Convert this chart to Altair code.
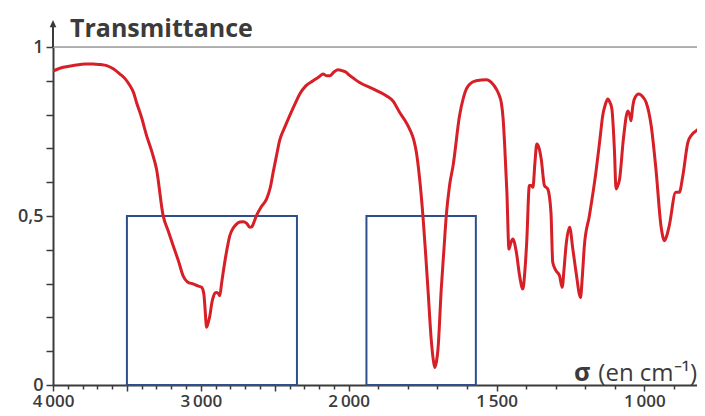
import altair as alt
import pandas as pd

# ---------------- data ----------------
sigma = [4000, 3930, 3863, 3780, 3728, 3680, 3637, 3590, 3547, 3510, 3480, 3455, 3435, 3400,
         3367, 3330, 3300, 3255, 3220, 3187, 3150, 3120, 3090, 3052, 3020, 2995, 2980, 2973,
         2961, 2950, 2939, 2925, 2917, 2905, 2894, 2880, 2872, 2860, 2849, 2830, 2804, 2780,
         2759, 2735, 2714, 2690, 2669, 2655, 2646, 2624, 2590, 2556, 2530, 2511, 2490, 2466,
         2430, 2399, 2360, 2331, 2290, 2241, 2200, 2173, 2150, 2128, 2100, 2072, 2045, 2016,
         2000, 1980, 1963, 1918, 1873, 1850, 1828, 1810, 1794, 1780, 1771, 1760, 1749, 1740,
         1732, 1721, 1714, 1709, 1703, 1698, 1687, 1678, 1670, 1659, 1647, 1625, 1612, 1602,
         1591, 1569, 1535, 1512, 1501, 1490, 1484, 1478, 1473, 1465, 1458, 1452, 1445, 1433,
         1422, 1411, 1404, 1398, 1389, 1382, 1377, 1370, 1364, 1356, 1349, 1338, 1327, 1316,
         1310, 1300, 1287, 1278, 1272, 1265, 1253, 1242, 1231, 1216, 1210, 1203, 1186, 1164,
         1150, 1141, 1132, 1124, 1116, 1110, 1101, 1096, 1090, 1084, 1071, 1056, 1050, 1045,
         1040, 1034, 1019, 1005, 994, 977, 961, 944, 938, 932, 925, 916, 894, 882, 870, 853,
         840, 825, 803, 795]
transmittance = [0.929, 0.940, 0.945, 0.950, 0.950, 0.948, 0.945, 0.935, 0.920, 0.905, 0.886,
                 0.865, 0.836, 0.790, 0.738, 0.688, 0.639, 0.501, 0.455, 0.412, 0.365, 0.323,
                 0.305, 0.299, 0.293, 0.289, 0.270, 0.235, 0.171, 0.185, 0.205, 0.245, 0.259,
                 0.272, 0.274, 0.270, 0.264, 0.300, 0.333, 0.385, 0.442, 0.465, 0.476, 0.482,
                 0.483, 0.478, 0.467, 0.468, 0.476, 0.501, 0.528, 0.550, 0.585, 0.629, 0.675,
                 0.725, 0.765, 0.797, 0.835, 0.861, 0.885, 0.900, 0.912, 0.920, 0.915, 0.915,
                 0.926, 0.933, 0.930, 0.925, 0.918, 0.905, 0.895, 0.876, 0.856, 0.840, 0.807,
                 0.783, 0.757, 0.725, 0.688, 0.609, 0.501, 0.390, 0.284, 0.136, 0.075, 0.052,
                 0.070, 0.107, 0.284, 0.400, 0.501, 0.590, 0.649, 0.797, 0.850, 0.876, 0.890,
                 0.900, 0.903, 0.890, 0.876, 0.855, 0.836, 0.790, 0.718, 0.570, 0.402, 0.420,
                 0.432, 0.393, 0.323, 0.284, 0.340, 0.422, 0.590, 0.590, 0.585, 0.660, 0.713,
                 0.700, 0.669, 0.590, 0.580, 0.511, 0.363, 0.340, 0.323, 0.289, 0.340, 0.412,
                 0.467, 0.402, 0.333, 0.259, 0.320, 0.412, 0.501, 0.629, 0.730, 0.797, 0.830,
                 0.846, 0.835, 0.817, 0.688, 0.580, 0.590, 0.609, 0.728, 0.811, 0.800, 0.782,
                 0.820, 0.846, 0.861, 0.852, 0.836, 0.767, 0.639, 0.471, 0.440, 0.427, 0.440,
                 0.471, 0.570, 0.570, 0.619, 0.718, 0.740, 0.752, 0.762, 0.762]

box_left = [3500, 1940]
box_right = [2350, 1570]
box_bottom = [0.0, 0.0]
box_top = [0.5, 0.5]

x_tick_sigma = list(range(4000, 1999, -100)) + list(range(1900, 799, -100))
x_major_sigma = [4000, 3500, 3000, 2500, 2000, 1500, 1000]
x_label_sigma = [4000, 3000, 2000, 1500, 1000]
y_ticks = [round(i / 10, 1) for i in range(11)]
y_labels = {0.0: "0", 0.5: "0,5", 1.0: "1"}

PX_PER_UNIT = 147.85   # pixels per 1000 cm-1 (above 2000) / per 500 cm-1 (below)
PLOT_W = 644


# ---------------- helpers ----------------
def pos(s):
    """Position on the spectrum axis: scale doubles below 2000 cm-1."""
    return (4000 - s) / 1000 if s >= 2000 else 2 + (2000 - s) / 500


def fmt(s):
    t = str(s)
    return t[:-3] + "\u2009" + t[-3:]


P_MAX = PLOT_W / PX_PER_UNIT

RED = "#d61f26"
BLUE = "#2f4f8c"
DARK = "#3b3b3b"
FONT = "Open Sans"

curve = pd.DataFrame({"sigma": sigma, "T": transmittance})
curve["p"] = curve["sigma"].apply(pos)

boxes = pd.DataFrame({"p0": [pos(s) for s in box_left], "p1": [pos(s) for s in box_right],
                      "T0": box_bottom, "T1": box_top})

x_vals = [round(pos(s), 3) for s in x_tick_sigma if pos(s) <= P_MAX]
x_major = [round(pos(s), 3) for s in x_major_sigma]
x_label_expr = "".join(
    f"datum.value == {round(pos(s), 3)} ? '{fmt(s)}' : " for s in x_label_sigma) + "''"
y_label_expr = "".join(
    f"datum.value == {v} ? '{t}' : " for v, t in y_labels.items()) + "''"

xscale = alt.Scale(domain=[0, P_MAX], nice=False, zero=False)
yscale = alt.Scale(domain=[0, 1], nice=False, zero=False)

xaxis = alt.Axis(
    values=x_vals, labelExpr=x_label_expr, grid=False, title=None,
    domainColor=DARK, domainWidth=2, tickColor=DARK, tickWidth=1.5,
    tickSize={"condition": {"test": f"indexof({x_major}, datum.value) >= 0", "value": 6},
              "value": 4},
    labelFont=FONT, labelFontSize=17, labelFontWeight=600, labelColor=DARK,
    labelBaseline="alphabetic", labelPadding=15,
    labelFlush=False, labelOverlap=False, labelAngle=0,
)
yaxis = alt.Axis(
    values=y_ticks, labelExpr=y_label_expr, grid=False, title=None,
    domainColor=DARK, domainWidth=2, tickColor=DARK, tickWidth=1.5, tickSize=7,
    labelFont=FONT, labelFontSize=18, labelFontWeight=600, labelColor=DARK,
    labelPadding=3, labelFlush=False, labelOverlap=False,
)


def X(field):
    return alt.X(field, type="quantitative", scale=xscale, axis=xaxis, title=None)


def Y(field):
    return alt.Y(field, type="quantitative", scale=yscale, axis=yaxis, title=None)


box_layer = alt.Chart(boxes).mark_rect(
    fillOpacity=0, stroke=BLUE, strokeWidth=2
).encode(x=X("p0"), x2="p1", y=Y("T0"), y2="T1")

grid_df = pd.DataFrame({"p0": [0.0], "p1": [P_MAX], "T": [1.0]})
grid_layer = alt.Chart(grid_df).mark_rule(color="#9c9c9c", strokeWidth=1.5).encode(
    x=X("p0"), x2="p1", y=Y("T"))

arrow_df = pd.DataFrame({"p": [0.0], "T0": [1.0], "T1": [1.06]})
arrow_line = alt.Chart(arrow_df).mark_rule(color=DARK, strokeWidth=2).encode(
    x=X("p"), y=Y("T0"), y2="T1")
arrow_head = alt.Chart(pd.DataFrame({"p": [0.0], "T": [1.068]})).mark_point(
    shape="M-1,1L0,-1.2L1,1Z", filled=True, color=DARK, opacity=1, size=45
).encode(x=X("p"), y=Y("T"))

curve_layer = alt.Chart(curve).mark_line(
    color=RED, strokeWidth=3, interpolate="monotone", clip=True
).encode(x=X("p"), y=Y("T"))

title_df = pd.DataFrame({"p": [0.115], "T": [1.03], "label": ["Transmittance"]})
title_layer = alt.Chart(title_df).mark_text(
    align="left", baseline="alphabetic", font=FONT, fontSize=25, fontWeight=700, color=DARK
).encode(x=X("p"), y=Y("T"), text="label:N")

unit_df = pd.DataFrame({"p": [P_MAX], "T": [0.012], "label": ["(en cm\u207b\u00b9)"]})
unit_layer = alt.Chart(unit_df).mark_text(
    align="right", baseline="alphabetic", font=FONT, fontSize=24, fontWeight=400, color=DARK
).encode(x=X("p"), y=Y("T"), text="label:N")

sig_df = pd.DataFrame({"p": [3.635], "T": [0.012], "label": ["\u03c3"]})
sig_layer = alt.Chart(sig_df).mark_text(
    align="right", baseline="alphabetic", font=FONT, fontSize=25, fontWeight=700, color=DARK
).encode(x=X("p"), y=Y("T"), text="label:N")

chart = alt.layer(
    grid_layer, box_layer, arrow_line, arrow_head, curve_layer,
    title_layer, unit_layer, sig_layer
).properties(
    width=PLOT_W, height=338,
    autosize=alt.AutoSizeParams(type="none"),
    padding={"left": 45, "top": 39, "right": 0, "bottom": 23},
).configure_view(stroke=None).configure(background="white")

chart.save("out.html", embed_options={"renderer": "svg", "actions": False})
